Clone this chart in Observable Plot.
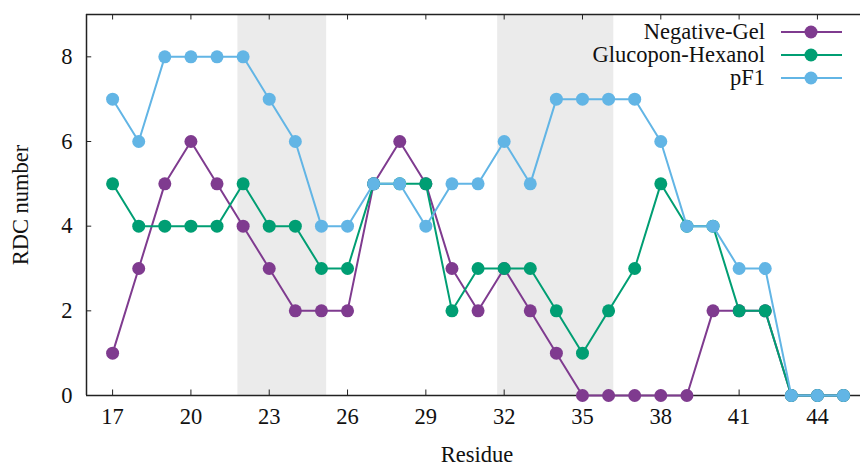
<!DOCTYPE html>
<html>
<head>
<meta charset="utf-8">
<script src="https://cdn.jsdelivr.net/npm/d3@7"></script>
<script src="https://cdn.jsdelivr.net/npm/@observablehq/plot@0.6"></script>
<style>
  html, body { margin: 0; padding: 0; background: #fff; }
  svg { display: block; }
  svg text { font-family: "Liberation Serif", "Times New Roman", serif !important; }
</style>
</head>
<body>
<div id="chart"></div>
<script>
const residues = [17,18,19,20,21,22,23,24,25,26,27,28,29,30,31,32,33,34,35,36,37,38,39,40,41,42,43,44,45];
const negativeGel = [1,3,5,6,5,4,3,2,2,2,5,6,5,3,2,3,2,1,0,0,0,0,0,2,2,2,0,0,0];
const glucoponHexanol = [5,4,4,4,4,5,4,4,3,3,5,5,5,2,3,3,3,2,1,2,3,5,4,4,2,2,0,0,0];
const pF1 = [7,6,8,8,8,8,7,6,4,4,5,5,4,5,5,6,5,7,7,7,7,6,4,4,3,3,0,0,0];
const seriesNames = ["Negative-Gel", "Glucopon-Hexanol", "pF1"];
const seriesColors = ["#7f3b8f", "#009e73", "#62b5e5"];
const shadedRegions = [[21.8, 25.2], [31.75, 36.2]];
const xTicks = [17,20,23,26,29,32,35,38,41,44];
const yTicks = [0,2,4,6,8];

const seriesValues = [negativeGel, glucoponHexanol, pF1];
const data = seriesNames.flatMap((name, s) =>
  residues.map((r, i) => ({series: name, residue: r, value: seriesValues[s][i]})));
const regions = shadedRegions.map(([a, b]) => ({x1: a, x2: b}));

const font = "Liberation Serif, Times New Roman, serif";
const fs = 22.5;
const axisColor = "#222";

const marks = [
  Plot.rectY(regions, {x1: "x1", x2: "x2", y1: 0, y2: 9, fill: "#ebebeb"}),
  Plot.ruleX(xTicks, {x: d => d, y1: 0, y2: 0.13, stroke: axisColor, strokeWidth: 1}),
  Plot.ruleX(xTicks, {x: d => d, y1: 9, y2: 8.87, stroke: axisColor, strokeWidth: 1}),
  Plot.ruleY(yTicks, {y: d => d, x1: 16, x2: 16.2, stroke: axisColor, strokeWidth: 1}),
  Plot.ruleY([0], {stroke: axisColor, strokeWidth: 1.5}),
  Plot.ruleY([9], {stroke: axisColor, strokeWidth: 1.5}),
  Plot.ruleX([16], {stroke: axisColor, strokeWidth: 1.5}),
  Plot.axisX({ticks: xTicks, tickSize: 0, tickPadding: 13, fontSize: fs, label: null}),
  Plot.axisY({ticks: yTicks, tickSize: 0, tickPadding: 14, fontSize: fs, label: null}),
];
seriesNames.forEach((name, s) => {
  const d = data.filter(v => v.series === name);
  marks.push(Plot.line(d, {x: "residue", y: "value", stroke: seriesColors[s], strokeWidth: 2}));
  marks.push(Plot.dot(d, {x: "residue", y: "value", fill: seriesColors[s], r: 6.5}));
});

const chart = Plot.plot({
  width: 860,
  height: 466,
  marginLeft: 86,
  marginTop: 14,
  marginBottom: 71,
  marginRight: 0,
  style: {fontFamily: font, fontSize: fs + "px", color: "#111", background: "#fff", overflow: "visible"},
  x: {domain: [16, 45.65]},
  y: {domain: [0, 9]},
  marks
});

const svg = d3.select(chart);
svg.append("text").attr("x", 477).attr("y", 455).attr("dy", "0.32em")
  .attr("text-anchor", "middle").attr("font-size", fs).attr("fill", "#111")
  .text("Residue");
svg.append("text").attr("transform", "translate(21,205) rotate(-90)").attr("dy", "0.32em")
  .attr("text-anchor", "middle").attr("font-size", fs).attr("fill", "#111")
  .text("RDC number");
const lg = svg.append("g");
seriesNames.forEach((name, i) => {
  const y = 32 + i * 23;
  lg.append("text").attr("x", 765).attr("y", y).attr("dy", "0.32em")
    .attr("text-anchor", "end").attr("font-size", fs).attr("fill", "#111")
    .text(name);
  lg.append("line").attr("x1", 781).attr("x2", 842).attr("y1", y).attr("y2", y)
    .attr("stroke", seriesColors[i]).attr("stroke-width", 2);
  lg.append("circle").attr("cx", 811).attr("cy", y).attr("r", 6.5).attr("fill", seriesColors[i]);
});

document.getElementById("chart").appendChild(chart);
</script>
</body>
</html>
